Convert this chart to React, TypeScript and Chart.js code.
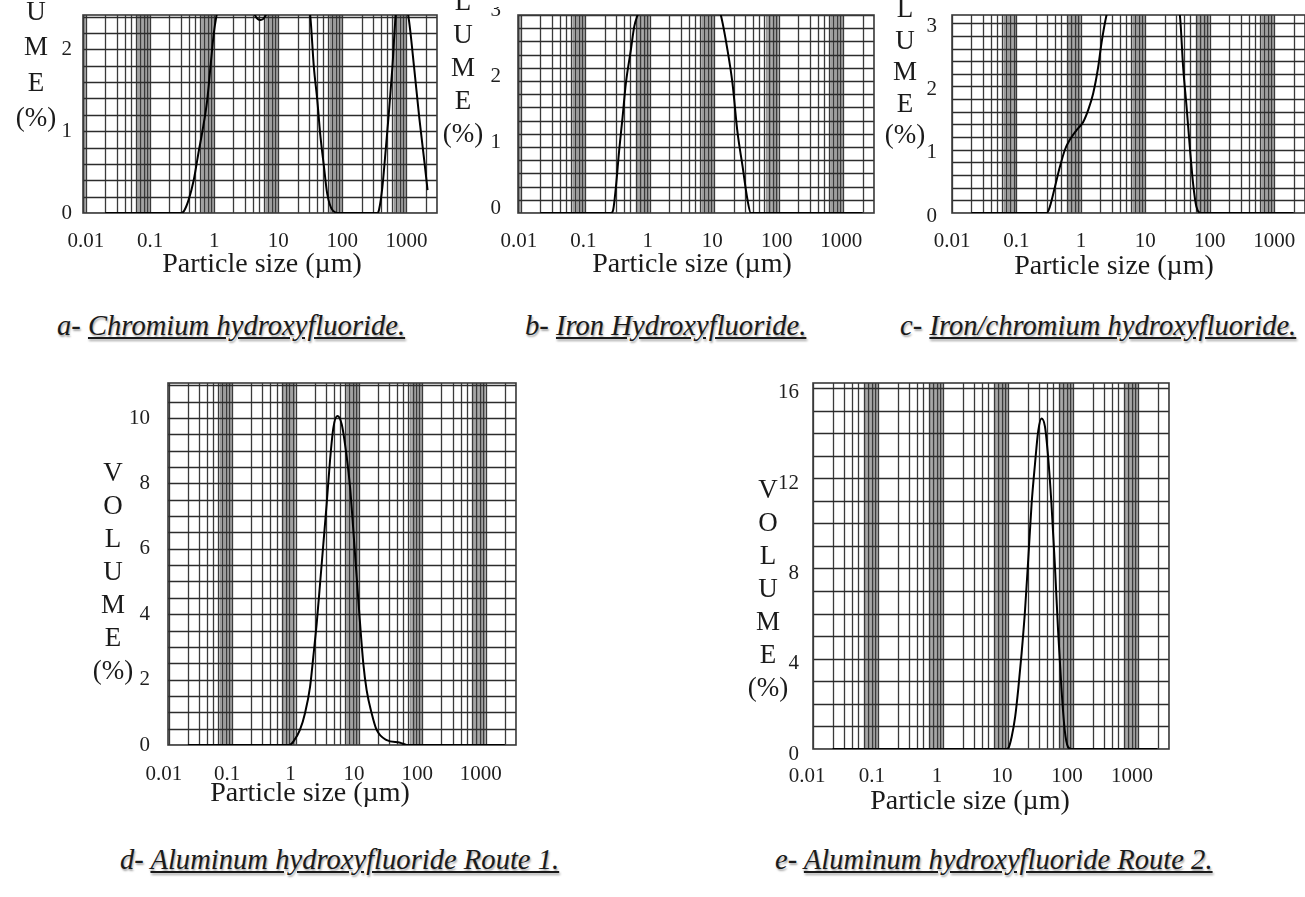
import React, { useEffect, useRef } from 'react';
import { Chart, registerables } from 'chart.js';

Chart.register(...registerables);

// ---------- DATA ----------
const xTickValues = [0.01, 0.1, 1, 10, 100, 1000];
const xTickLabels = ['0.01', '0.1', '1', '10', '100', '1000'];
const xAxisTitle = 'Particle size (µm)';
const yTitleLines = ['V', 'O', 'L', 'U', 'M', 'E', '(%)'];

const sizesA = [0.02, 0.1, 0.3, 0.336, 0.4, 0.48, 0.58, 0.65, 0.78, 0.875, 0.99, 1.11, 1.4, 2.0, 3.0, 4.4, 5.3, 6.3, 9, 14, 22, 28, 31.6, 36, 40.7, 45, 51.8, 58, 69.6, 89, 200, 355, 374, 422, 475, 537, 604, 680, 850, 1097, 1318, 1585, 1893, 2138];
const volumeA = [0, 0, 0, 0.02, 0.16, 0.4, 0.77, 0.98, 1.38, 1.78, 2.2, 2.45, 2.85, 3.1, 2.9, 2.41, 2.36, 2.41, 2.8, 3.0, 2.85, 2.6, 2.41, 1.78, 1.38, 0.98, 0.56, 0.24, 0.04, 0, 0, 0, 0.04, 0.32, 0.77, 1.26, 1.78, 2.41, 2.8, 2.35, 1.78, 1.17, 0.65, 0.28];
const yTicksA = [0, 1, 2];

const sizesB = [0.02, 0.1, 0.25, 0.27, 0.297, 0.334, 0.377, 0.425, 0.507, 0.571, 0.645, 1.2, 3, 7, 12.6, 16, 19.1, 22.9, 27.4, 32.7, 36.8, 100, 2000];
const volumeB = [0, 0, 0, 0.05, 0.39, 0.95, 1.45, 1.97, 2.47, 2.82, 3.0, 3.6, 3.9, 3.6, 3.0, 2.47, 1.97, 1.22, 0.71, 0.2, 0, 0, 0];
const yTicksB = [0, 1, 2, 3];

const sizesC = [0.02, 0.1, 0.295, 0.33, 0.395, 0.472, 0.565, 0.676, 0.857, 1.086, 1.3, 1.55, 1.85, 2.09, 2.5, 4, 8, 20, 34.3, 38.6, 43.6, 49, 55, 62, 74, 200, 2000];
const volumeC = [0, 0, 0, 0.1, 0.41, 0.73, 1.0, 1.16, 1.31, 1.44, 1.63, 1.89, 2.3, 2.69, 3.13, 3.8, 4.1, 3.8, 3.13, 2.3, 1.68, 1.04, 0.47, 0.1, 0, 0, 0];
const yTicksC = [0, 1, 2, 3];

const sizesD = [0.02, 0.5, 0.8, 0.92, 1.17, 1.41, 1.69, 1.9, 2.15, 2.43, 2.74, 3.09, 3.49, 3.94, 4.56, 5.35, 6.41, 7.24, 8.15, 9.2, 10.4, 11.7, 13.2, 15.8, 19, 27.4, 44.6, 57, 200, 2000];
const volumeD = [0, 0, 0, 0.1, 0.46, 0.98, 1.78, 2.69, 3.71, 4.93, 6.15, 7.37, 8.7, 9.7, 10.06, 9.8, 8.8, 7.87, 6.55, 5.13, 3.71, 2.49, 1.68, 0.98, 0.46, 0.15, 0.07, 0, 0, 0];
const yTicksD = [0, 2, 4, 6, 8, 10];

const sizesE = [0.02, 1, 9.5, 10.2, 11.4, 12.9, 14.5, 16.2, 18.3, 20.6, 23.1, 26, 29.2, 32.8, 37, 41.5, 46.6, 52.5, 58.9, 66.2, 74.6, 83.6, 94, 500, 2000];
const volumeE = [0, 0, 0, 0.05, 0.54, 1.43, 2.76, 4.24, 6.16, 8.52, 10.88, 12.62, 14.1, 14.65, 14.3, 12.92, 10.88, 8.22, 5.28, 2.76, 0.84, 0.1, 0, 0, 0];
const yTicksE = [0, 4, 8, 12, 16];

const captionPrefixes = ['a- ', 'b- ', 'c- ', 'd- ', 'e- '];
const captionTexts = [
  'Chromium hydroxyfluoride.',
  'Iron Hydroxyfluoride.',
  'Iron/chromium hydroxyfluoride.',
  'Aluminum hydroxyfluoride Route 1.',
  'Aluminum hydroxyfluoride Route 2.',
];

// ---------- LAYOUT / STYLE ----------
const FONT = '"Liberation Serif", "Times New Roman", serif';
const PAD_L = 60;
const PAD_R = 10;
const PAD_B = 40;

const panels = [
  { sizes: sizesA, volume: volumeA, yTicks: yTicksA, xMin: 0.009, xMax: 3000, yMax: 2.42, yStep: 0.2,
    L: 83, T: 15, W: 353.5, H: 198, padT: 10, yPad: 3, yOff: 0, xPad: 8, xOff: 0,
    xt: [262, 263], yt: [36, 117, 35.5], cap: [57, 326] },
  { sizes: sizesB, volume: volumeB, yTicks: yTicksB, xMin: 0.009, xMax: 3000, yMax: 3.0, yStep: 0.2,
    L: 518, T: 15, W: 356, H: 198, padT: 8, yPad: 9, yOff: -5, xPad: 8, xOff: -2,
    xt: [692, 263], yt: [463, 133, 33], cap: [525, 326] },
  { sizes: sizesC, volume: volumeC, yTicks: yTicksC, xMin: 0.01, xMax: 3000, yMax: 3.13, yStep: 0.2,
    L: 952, T: 15, W: 353, H: 198, padT: 10, yPad: 7, yOff: 3, xPad: 8, xOff: 0,
    xt: [1114, 265], yt: [905, 134, 31.5], cap: [900, 326] },
  { sizes: sizesD, volume: volumeD, yTicks: yTicksD, xMin: 0.0097, xMax: 3000, yMax: 11.07, yStep: 0.5,
    L: 168, T: 383, W: 347.5, H: 362, padT: 10, yPad: 10, yOff: 0, xPad: 9, xOff: -5,
    xt: [310, 792], yt: [113, 670, 33], cap: [120, 860] },
  { sizes: sizesE, volume: volumeE, yTicks: yTicksE, xMin: 0.01, xMax: 3000, yMax: 16.22, yStep: 1,
    L: 813, T: 383, W: 356, H: 366, padT: 10, yPad: 6, yOff: 5, xPad: 7, xOff: -6,
    xt: [970, 800], yt: [768, 687, 33], cap: [775, 860] },
];

const logPaper = {
  id: 'logPaper',
  beforeDatasetsDraw(chart: any, _args: any, opts: any) {
    const { ctx, chartArea: a } = chart;
    const x = chart.scales.x;
    const y = chart.scales.y;
    ctx.save();
    ctx.beginPath();
    ctx.rect(a.left, a.top, a.right - a.left, a.bottom - a.top);
    ctx.clip();
    const d0 = Math.floor(Math.log10(x.min)) - 1;
    const d1 = Math.ceil(Math.log10(x.max));
    // grey dense bands near the end of each decade
    ctx.fillStyle = '#b0b0b0';
    for (let d = d0; d <= d1; d++) {
      const b = Math.pow(10, d);
      const x1 = x.getPixelForValue(6.3 * b);
      const x2 = x.getPixelForValue(10 * b);
      ctx.fillRect(x1, a.top, x2 - x1, a.bottom - a.top);
    }
    // fine lines inside bands
    ctx.strokeStyle = '#909090';
    ctx.lineWidth = 0.8;
    for (let d = d0; d <= d1; d++) {
      const b = Math.pow(10, d);
      for (const m of [6.5, 7.5, 8.5, 9.5]) {
        const px = x.getPixelForValue(m * b);
        ctx.beginPath();
        ctx.moveTo(px, a.top);
        ctx.lineTo(px, a.bottom);
        ctx.stroke();
      }
    }
    // major vertical lines 1..9 per decade
    ctx.strokeStyle = '#3a3a3a';
    ctx.lineWidth = 1.3;
    for (let d = d0; d <= d1; d++) {
      const b = Math.pow(10, d);
      for (let m = 1; m <= 9; m++) {
        const px = Math.round(x.getPixelForValue(m * b)) + 0.5;
        ctx.beginPath();
        ctx.moveTo(px, a.top);
        ctx.lineTo(px, a.bottom);
        ctx.stroke();
      }
    }
    // horizontal lines
    ctx.strokeStyle = '#2c2c2c';
    ctx.lineWidth = 1.6;
    const n = Math.floor(y.max / opts.yStep + 1e-6);
    for (let k = 0; k <= n; k++) {
      const py = Math.round(y.getPixelForValue(k * opts.yStep)) + 0.5;
      ctx.beginPath();
      ctx.moveTo(a.left, py);
      ctx.lineTo(a.right, py);
      ctx.stroke();
    }
    ctx.restore();
    // frame
    ctx.save();
    ctx.strokeStyle = '#3a3a3a';
    ctx.lineWidth = 1.6;
    ctx.strokeRect(a.left, a.top, a.right - a.left, a.bottom - a.top);
    ctx.restore();
  },
};

function Panel({ p }: { p: any }) {
  const ref = useRef<HTMLCanvasElement | null>(null);
  const cw = Math.round(p.W) + PAD_L + PAD_R;
  const ch = Math.round(p.H) + p.padT + PAD_B;
  useEffect(() => {
    if (!ref.current) return;
    const chart = new Chart(ref.current, {
      type: 'line',
      data: {
        datasets: [
          {
            data: p.sizes.map((s: number, i: number) => ({ x: s, y: p.volume[i] })),
            borderColor: '#000',
            borderWidth: 2,
            pointRadius: 0,
            fill: false,
            cubicInterpolationMode: 'monotone',
          },
        ],
      },
      options: {
        responsive: false,
        animation: false,
        events: [],
        layout: { padding: { left: 0, top: p.padT, right: PAD_R, bottom: 0 } },
        plugins: {
          legend: { display: false },
          tooltip: { enabled: false },
          logPaper: { yStep: p.yStep },
        } as any,
        scales: {
          x: {
            type: 'logarithmic',
            min: p.xMin,
            max: p.xMax,
            grid: { display: false },
            border: { display: false },
            afterBuildTicks: (s: any) => {
              s.ticks = xTickValues.map((v) => ({ value: v }));
            },
            afterFit: (s: any) => {
              s.height = PAD_B;
              s.paddingLeft = 0;
              s.paddingRight = 0;
            },
            ticks: {
              autoSkip: false,
              maxRotation: 0,
              padding: p.xPad,
              labelOffset: p.xOff,
              color: '#1e1e1e',
              font: { family: FONT, size: 21 },
              callback: (_v: any, i: number) => xTickLabels[i],
            },
          },
          y: {
            type: 'linear',
            min: 0,
            max: p.yMax,
            grid: { display: false },
            border: { display: false },
            afterBuildTicks: (s: any) => {
              s.ticks = p.yTicks.map((v: number) => ({ value: v }));
            },
            afterFit: (s: any) => {
              s.width = PAD_L;
              s.paddingTop = 0;
              s.paddingBottom = 0;
            },
            ticks: {
              autoSkip: false,
              padding: p.yPad,
              labelOffset: p.yOff,
              color: '#1e1e1e',
              font: { family: FONT, size: 21 },
              callback: (v: any) => String(v),
            },
          },
        },
      } as any,
      plugins: [logPaper],
    });
    return () => chart.destroy();
  }, []);
  return (
    <canvas
      ref={ref}
      width={cw}
      height={ch}
      style={{ position: 'absolute', left: p.L - PAD_L, top: p.T - p.padT, width: cw, height: ch }}
    />
  );
}

export default function App() {
  return (
    <div
      style={{
        position: 'fixed',
        left: 0,
        top: 0,
        width: 1305,
        height: 897,
        overflow: 'hidden',
        background: '#fff',
        fontFamily: FONT,
        color: '#1a1a1a',
      }}
    >
      {panels.map((p, i) => (
        <React.Fragment key={i}>
          <Panel p={p} />
          <div
            style={{
              position: 'absolute',
              left: p.xt[0] - 150,
              top: p.xt[1] - 18,
              width: 300,
              height: 36,
              lineHeight: '36px',
              textAlign: 'center',
              fontSize: 28,
              whiteSpace: 'nowrap',
            }}
          >
            {xAxisTitle}
          </div>
          {yTitleLines.map((t, j) => (
            <div
              key={j}
              style={{
                position: 'absolute',
                left: p.yt[0] - 30,
                top: p.yt[1] - (yTitleLines.length - 1 - j) * p.yt[2] - 16,
                width: 60,
                height: 32,
                lineHeight: '32px',
                textAlign: 'center',
                fontSize: 27,
              }}
            >
              {t}
            </div>
          ))}
          <div
            style={{
              position: 'absolute',
              left: p.cap[0],
              top: p.cap[1] - 18,
              height: 36,
              lineHeight: '36px',
              fontStyle: 'italic',
              fontSize: 28.6,
              whiteSpace: 'nowrap',
              textShadow: '1px 2px 2px rgba(0,0,0,0.35)',
            }}
          >
            {captionPrefixes[i]}
            <span style={{ textDecoration: 'underline' }}>{captionTexts[i]}</span>
          </div>
        </React.Fragment>
      ))}
    </div>
  );
}
